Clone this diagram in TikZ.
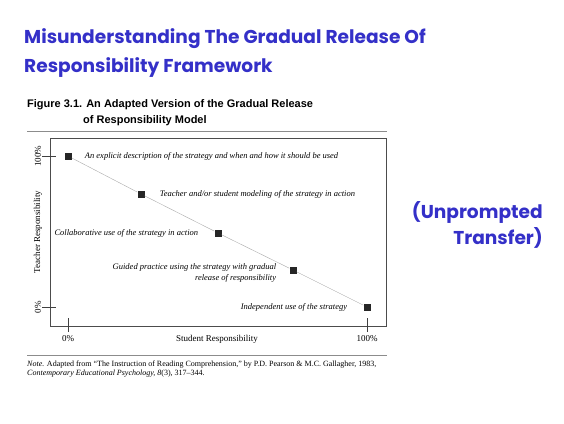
\documentclass[tikz,border=0pt]{standalone}
\usepackage{fontspec}
\setmainfont{Liberation Serif}
\newfontfamily\titlefont{Poppins}
\newfontfamily\capfont{Liberation Sans}
\usetikzlibrary{positioning}
\definecolor{tblue}{RGB}{52,48,200}
\definecolor{rulegray}{RGB}{140,140,140}
\definecolor{linegray}{RGB}{170,170,170}

\begin{document}
\begin{tikzpicture}[x=1pt,y=-1pt,
  title/.style={anchor=base west,inner sep=0pt,tblue,font=\titlefont\bfseries\fontsize{18.6}{22}\selectfont},
  side/.style={anchor=base east,inner sep=0pt,tblue,font=\titlefont\bfseries\fontsize{18.6}{22}\selectfont},
  caption/.style={anchor=base west,inner sep=0pt,font=\capfont\bfseries\fontsize{11}{13}\selectfont},
  pt/.style={fill=black!85,minimum size=7pt,inner sep=0pt},
  lbl/.style={font=\itshape\fontsize{8.5}{10.5}\selectfont,inner sep=0pt},
  axlbl/.style={font=\fontsize{9}{11}\selectfont,inner sep=0pt},
  tick/.style={black!75,thin}
]
  \useasboundingbox (0,0) rectangle (564,423);

  % slide title
  \node[title] (t1) at (24,43) {Misunderstanding The Gradual Release Of};
  \node[title] (t2) at (24,72) {Responsibility Framework};
  \node[side] (u1) at (543,218) {(Unprompted};
  \node[side] (u2) at (543,244) {Transfer)};

  % figure caption
  \node[caption] (c1) at (27,107) {Figure 3.1. An Adapted Version of the Gradual Release};
  \node[caption] (c2) at (83,123) {of Responsibility Model};
  \draw[rulegray] (27,131) -- (387,131);

  % plot frame and ticks
  \draw[black!70] (50,138) rectangle (386,326);
  \draw[tick] (42,156) -- (56,156);
  \draw[tick] (42,307) -- (56,307);
  \draw[tick] (68,318) -- (68,332);
  \draw[tick] (367,318) -- (367,332);
  \node[axlbl,rotate=90] (y100) at (38,156) {100\%};
  \node[axlbl,rotate=90] (y0) at (38,307) {0\%};
  \node[axlbl,rotate=90] (ylab) at (38,232) {Teacher Responsibility};
  \node[axlbl] (x0) at (68,339) {0\%};
  \node[axlbl] (xlab) at (217,339) {Student Responsibility};
  \node[axlbl] (x100) at (367,339) {100\%};

  % release steps
  \node[pt] (p1) at (68,156) {};
  \node[pt] (p2) at (141,194) {};
  \node[pt] (p3) at (218,233) {};
  \node[pt] (p4) at (293,270) {};
  \node[pt] (p5) at (367,307) {};
  \draw[linegray] (p1) -- (p2) -- (p3) -- (p4) -- (p5);

  \node[lbl,right=13pt of p1] (l1) {An explicit description of the strategy and when and how it should be used};
  \node[lbl,right=15pt of p2] (l2) {Teacher and/or student modeling of the strategy in action};
  \node[lbl,left=16pt of p3] (l3) {Collaborative use of the strategy in action};
  \node[lbl,left=13pt of p4,align=right,yshift=-3pt] (l4) {Guided practice using the strategy with gradual\\release of responsibility};
  \node[lbl,left=16pt of p5] (l5) {Independent use of the strategy};

  % source note
  \draw[rulegray] (27,355) -- (387,355);
  \node[anchor=base west,inner sep=0pt,font=\fontsize{8}{9}\selectfont] (n1) at (27,366)
    {\textit{Note.} Adapted from ``The Instruction of Reading Comprehension,'' by P.D. Pearson \& M.C. Gallagher, 1983,};
  \node[anchor=base west,inner sep=0pt,font=\fontsize{8}{9}\selectfont] (n2) at (27,375)
    {\textit{Contemporary Educational Psychology, 8}(3), 317--344.};
\end{tikzpicture}
\end{document}
